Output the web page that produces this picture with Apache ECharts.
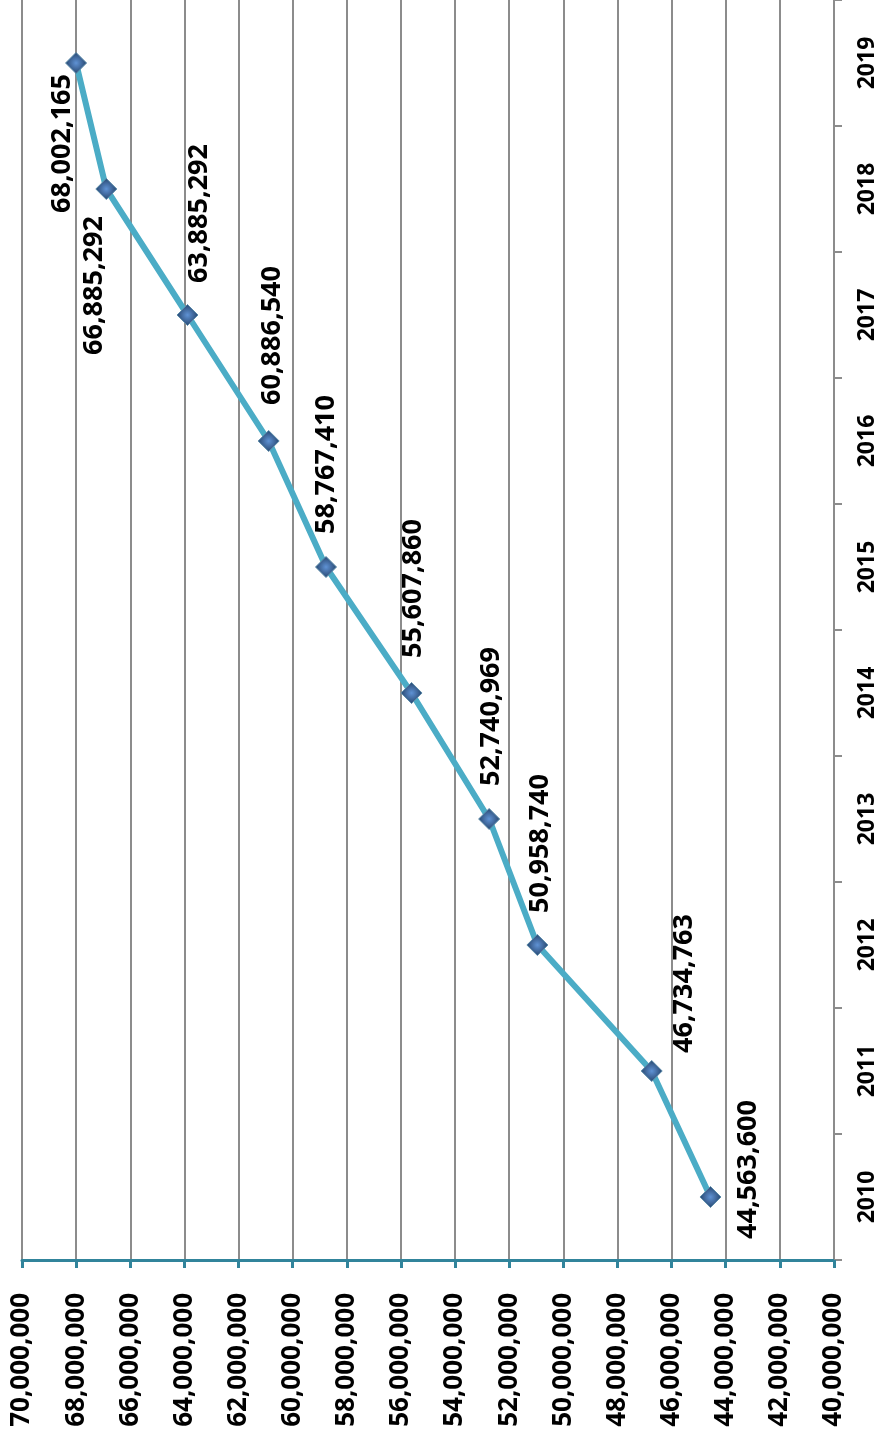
<!DOCTYPE html>
<html>
<head>
<meta charset="utf-8">
<script src="https://cdn.jsdelivr.net/npm/echarts@6/dist/echarts.min.js"></script>
<style>
  html, body { margin: 0; padding: 0; background: #fff; }
  #chart { width: 882px; height: 1437px; }
</style>
</head>
<body>
<div id="chart"></div>
<script>
// years on the (rotated) category axis, values on the horizontal value axis
const years = ['2010', '2011', '2012', '2013', '2014', '2015', '2016', '2017', '2018', '2019'];
const values = [44563600, 46734763, 50958740, 52740969, 55607860, 58767410, 60886540, 63885292, 66885292, 68002165];
const valueTicks = { min: 40000000, max: 70000000, step: 2000000 };

// where each data label sits relative to its marker (px)
const labelShift = [[38, -27], [33, -87], [3, -101], [3, -102], [2, -104], [1, -102], [4, -105], [12, -101], [-11, 97], [-13, 81]];

const symbolSize = 21;
const fmt = v => Number(v).toLocaleString('en-US');
const font = '"Noto Sans", "Open Sans", sans-serif';

const chart = echarts.init(document.getElementById('chart'));

const seriesData = values.map((v, i) => ({
    value: v,
    label: {
        position: [symbolSize / 2 + labelShift[i][0], symbolSize / 2 + labelShift[i][1]]
    }
}));

const option = {
    animation: false,
    backgroundColor: '#ffffff',
    grid: { left: 22, right: 48, top: 0, bottom: 177 },
    xAxis: {
        type: 'value',
        inverse: true,
        position: 'bottom',
        min: valueTicks.min,
        max: valueTicks.max,
        interval: valueTicks.step,
        axisLine: { show: true, onZero: false, lineStyle: { color: '#31849B', width: 3 } },
        axisTick: { show: true, length: 8, lineStyle: { color: '#31849B', width: 3 } },
        splitLine: { show: true, lineStyle: { color: '#8C8C8C', width: 2 } },
        axisLabel: {
            rotate: 90,
            margin: 33,
            color: '#000',
            fontWeight: 'bold',
            fontSize: 26,
            fontFamily: font,
            formatter: fmt
        }
    },
    yAxis: {
        type: 'category',
        position: 'right',
        data: years,
        boundaryGap: true,
        axisLine: { show: true, onZero: false, lineStyle: { color: '#8C8C8C', width: 2 } },
        axisTick: { show: true, length: 8, lineStyle: { color: '#8C8C8C', width: 2 } },
        splitLine: { show: false },
        axisLabel: {
            rotate: 90,
            margin: 22,
            color: '#000',
            fontWeight: 'bold',
            fontSize: 23,
            fontFamily: font
        }
    },
    series: [{
        type: 'line',
        data: seriesData,
        symbol: 'diamond',
        symbolSize: symbolSize,
        showAllSymbol: true,
        lineStyle: { color: '#4BACC6', width: 6 },
        itemStyle: {
            color: {
                type: 'radial', x: 0.5, y: 0.5, r: 0.6,
                colorStops: [
                    { offset: 0, color: '#5F92D4' },
                    { offset: 1, color: '#1B3558' }
                ]
            },
            borderColor: '#5A8AA8',
            borderWidth: 1
        },
        label: {
            show: true,
            rotate: 90,
            align: 'center',
            verticalAlign: 'middle',
            color: '#000',
            fontWeight: 'bold',
            fontSize: 27,
            fontFamily: font,
            formatter: p => fmt(p.value)
        },
        z: 3
    }]
};

chart.setOption(option);
</script>
</body>
</html>
